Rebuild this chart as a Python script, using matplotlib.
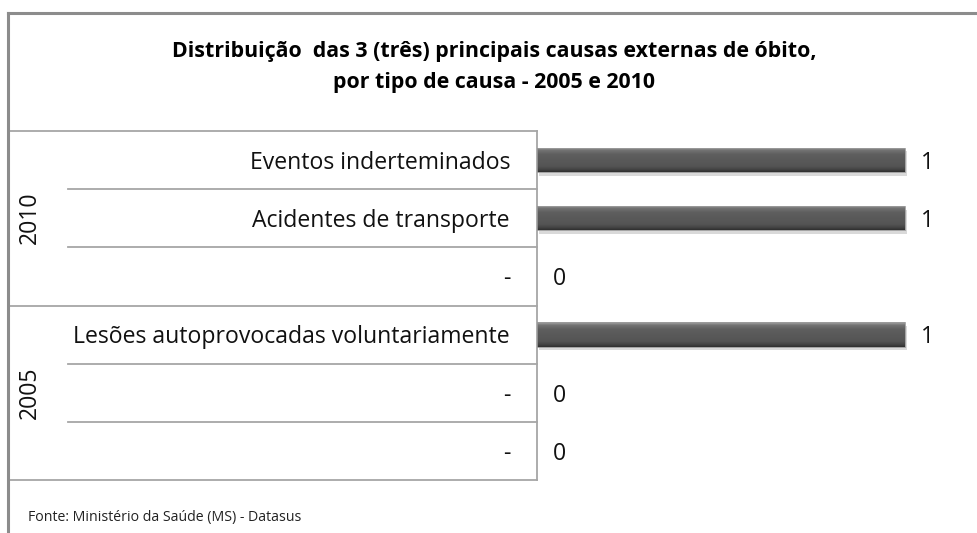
import numpy as np
import matplotlib.pyplot as plt
import matplotlib.patheffects as pe
from matplotlib.lines import Line2D
from matplotlib.colors import LinearSegmentedColormap

plt.rcParams['font.family'] = ['Open Sans', 'DejaVu Sans']

# data
causas = ["Eventos inderteminados", "Acidentes de transporte", "-",
          "Lesões autoprovocadas voluntariamente", "-", "-"]
anos = ["2010", "2005"]
valores = [1, 1, 0, 1, 0, 0]
titulo = "Distribuição  das 3 (três) principais causas externas de óbito,\npor tipo de causa - 2005 e 2010"
fonte = "Fonte: Ministério da Saúde (MS) - Datasus"

W, H = 978, 533
fig = plt.figure(figsize=(W / 100, H / 100), dpi=100)


def fx(px):
    return px / W


def fy(py):
    return 1 - py / H


top_px, bot_px = 131, 480
x_tab0, x_tab1 = 8, 537
x_one = 905

# outer frame (cropped on the right and bottom)
frame = "#8c8c8c"
fig.add_artist(Line2D([fx(8), 1], [fy(13), fy(13)], color=frame, lw=2.2))
fig.add_artist(Line2D([fx(8), fx(8)], [fy(13), 0], color=frame, lw=2.2))

fig.text(fx(494), fy(67), titulo, ha="center", va="center", fontsize=15.4,
         fontweight="bold", linespacing=1.62)
fig.text(fx(28), fy(518), fonte, ha="left", va="center", fontsize=10.2,
         color="#222222")

n = len(causas)
dy = 0.05  # text sits a little low in the row, as in the original

# table axes
axt = fig.add_axes([fx(x_tab0), fy(bot_px), fx(x_tab1 - x_tab0),
                    (bot_px - top_px) / H])
axt.set_xlim(x_tab0, x_tab1)
axt.set_ylim(n - 0.5, -0.5)
axt.axis("off")
grid = "#a6a6a6"
for b in range(n + 1):
    y = b - 0.5
    x0 = x_tab0 if b % 3 == 0 else 68
    axt.plot([x0, x_tab1], [y, y], color=grid, lw=1.3, clip_on=False)
axt.plot([x_tab1, x_tab1], [-0.5, n - 0.5], color=grid, lw=1.3, clip_on=False)
for i, c in enumerate(causas):
    axt.text(510, i + dy, c, ha="right", va="center", fontsize=16.6,
             color="#111111")
for g, ano in enumerate(anos):
    axt.text(30, g * 3 + 1, ano, ha="center", va="center", rotation=90,
             fontsize=16.6, color="#111111")

# bar axes
ax = fig.add_axes([fx(x_tab1), fy(bot_px), 1 - fx(x_tab1),
                   (bot_px - top_px) / H])
ys = list(range(n))
h = 0.42
bars = ax.barh(ys, valores, height=h, color="#555555", lw=0)
for b in bars:
    b.set_path_effects([pe.SimplePatchShadow(offset=(1.5, -2.5), alpha=0.15,
                                             shadow_rgbFace="#000000"),
                        pe.Normal()])

# bevelled look: vertical gradient clipped to each bar
cmap = LinearSegmentedColormap.from_list(
    "bevel", [(0, "#a8a8a8"), (0.12, "#727272"), (0.3, "#5e5e5e"),
              (0.78, "#545454"), (0.9, "#444444"), (1, "#303030")])
grad = np.linspace(0, 1, 64).reshape(-1, 1)
for b, y, v in zip(bars, ys, valores):
    if v <= 0:
        continue
    im = ax.imshow(grad, cmap=cmap, aspect="auto", interpolation="bilinear",
                   extent=[0, v, y + h / 2, y - h / 2], zorder=3)
    im.set_clip_path(b)
    ax.barh(y, v, height=h, fill=False, edgecolor="#9a9a9a", lw=0.6, zorder=4)
ax.set_xlim(0, (W - x_tab1) / (x_one - x_tab1))
ax.set_ylim(n - 0.5, -0.5)
ax.axis("off")

for y, v in zip(ys, valores):
    ax.text(v + 0.06, y + dy, str(v), ha="center", va="center", fontsize=16.6,
            color="#111111")

fig.savefig("out.png", dpi=100)
